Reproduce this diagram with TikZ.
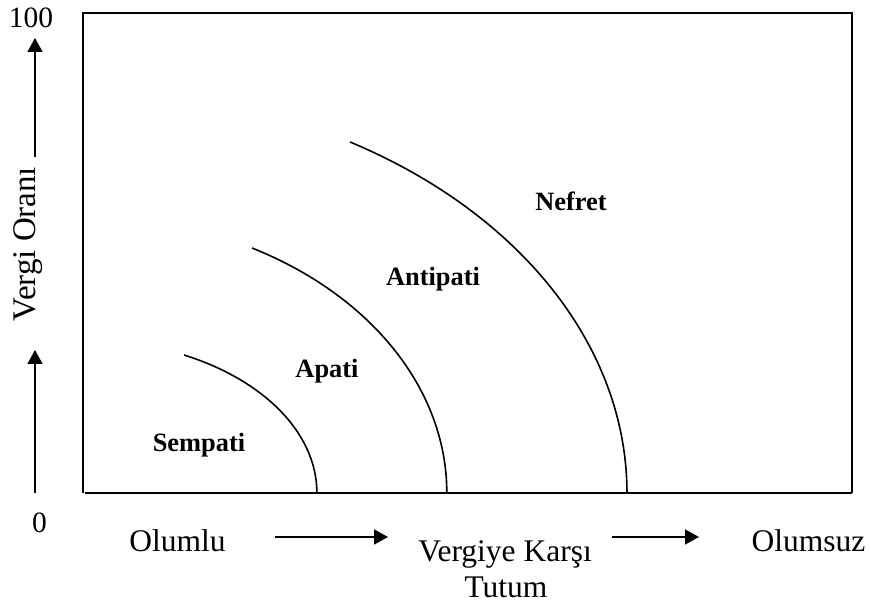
\documentclass[tikz,border=0pt]{standalone}
\usepackage{fontspec}
\setmainfont{Liberation Serif}
\usepackage{tikz}
\usetikzlibrary{
  arrows.meta,
  positioning
}

\begin{document}
\begin{tikzpicture}[
  x=0.5pt, y=0.5pt,
  txt/.style={inner sep=0pt, font=\fontsize{15.75}{18}\selectfont},
  zone/.style={inner sep=0pt, anchor=base, font=\fontsize{13.2}{15}\selectfont\bfseries},
  curve/.style={line width=0.8pt},
  arrow/.style={-{Triangle[length=7pt, width=7.5pt]}, line width=0.75pt}
]
\useasboundingbox (0,0) rectangle (871,608);

% Frame of the diagram
\coordinate (o) at (83,115);
\draw[line width=0.85pt] (83,115) |- (852,595) -- (852,115);
\draw[line width=1pt] (85,115) -- (852,115);

% Attitude curves
\coordinate (s1) at (184,253);
\coordinate (s2) at (252,360);
\coordinate (s3) at (350,466);
\draw[curve] (s1) arc[start angle=64.4, end angle=0, x radius=234, y radius=153];
\draw[curve] (s2) arc[start angle=62.3, end angle=0, x radius=364, y radius=276.5];
\draw[curve] (s3) arc[start angle=60.6, end angle=0, x radius=544, y radius=403];

% Zone labels
\node[zone] (sem) at (199,156) {Sempati};
\node[zone] (apa) at (327,230) {Apati};
\node[zone] (ant) at (433,322) {Antipati};
\node[zone] (nef) at (571,397) {Nefret};

% Vertical axis: tax rate
\node[txt, font=\fontsize{14.75}{17}\selectfont] (top) at (31,590) {100};
\node[txt, font=\fontsize{14.75}{17}\selectfont] (zero) at (39.5,85) {0};
\node[txt, font=\fontsize{16.5}{19}\selectfont, rotate=90] (rate) at (28,364) {Vergi Oranı};
\coordinate (v1) at (35,115);
\coordinate (v2) at (35,258);
\coordinate (v3) at (35,451);
\coordinate (v4) at (35,570);
\draw[arrow] (v1) -- (v2);
\draw[arrow] (v3) -- (v4);

% Horizontal axis: attitude towards tax
\node[txt, anchor=base] (pos) at (177.5,56) {Olumlu};
\node[txt, anchor=base] (neg) at (808.5,56) {Olumsuz};
\node[txt, anchor=base] (att) at (505,46) {Vergiye Karşı};
\node[txt, anchor=base] (att2) at (506,10) {Tutum};
\coordinate (h1) at (275,71);
\coordinate (h2) at (388,71);
\coordinate (h3) at (612,71);
\coordinate (h4) at (699,71);
\draw[arrow] (h1) -- (h2);
\draw[arrow] (h3) -- (h4);

\end{tikzpicture}
\end{document}
